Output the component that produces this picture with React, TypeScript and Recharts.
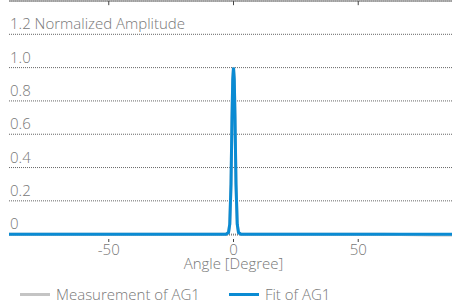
import { CartesianGrid, Legend, Line, LineChart, ReferenceLine, XAxis, YAxis } from 'recharts'

const angles = [-90, -80, -60, -40, -20, -10, -5, -3, -2, -1.5, -1, -0.6, -0.3, 0, 0.3, 0.6, 1, 1.5, 2, 3, 5, 10, 20, 40, 60, 80, 90]
const measurement = [0, 0, 0, 0, 0, 0, 0, 0, 0.01, 0.06, 0.3, 0.7, 0.93, 1.0, 0.93, 0.7, 0.3, 0.06, 0.01, 0, 0, 0, 0, 0, 0, -0.005, -0.005]
const fit = [0, 0, 0, 0, 0, 0, 0, 0, 0.01, 0.06, 0.3, 0.7, 0.93, 1.0, 0.93, 0.7, 0.3, 0.06, 0.01, 0, 0, 0, 0, 0, 0, 0, 0]
const yTicks = [0, 0.2, 0.4, 0.6, 0.8, 1.0, 1.2]
const xTicks = [-50, 0, 50]
const yMax = 1.4
const seriesNames = ['Measurement of AG1', 'Fit of AG1']

const rows = angles.map((a, i) => ({ angle: a, measurement: measurement[i], fit: fit[i] }))

const FONT = '"Open Sans", sans-serif'
const TEXT = '#777'
const BLUE = '#0a8bd3'
const GREY = '#c4c4c4'
const FS = 15

const yLabel = (v: number) => (v === 1.2 ? '1.2 Normalized Amplitude' : v === 0 ? '0' : v.toFixed(1))

// top frame line sits on the plot's upper edge (y = yMax)
const topEdge = (props: any) => {
  const s = props?.yAxis?.scale
  if (typeof s === 'function') return [s(yMax)]
  return [props?.offset?.top ?? 1]
}

function YTick({ x, y, payload }: any) {
  return (
    <text x={x + 1} y={y - 5} fill={TEXT} fontSize={FS} fontWeight={300} fontFamily={FONT} textAnchor="start">
      {yLabel(payload.value)}
    </text>
  )
}

function XTick({ x, y, payload }: any) {
  return (
    <g>
      <line x1={x} x2={x} y1={y - 4} y2={y - 1} stroke="#444" />
      <text x={x} y={y + 12} fill={TEXT} fontSize={FS} fontWeight={300} fontFamily={FONT} textAnchor="middle">
        {payload.value}
      </text>
    </g>
  )
}

function LegendBox({ payload }: any) {
  const items = [...(payload ?? [])].sort((a: any, b: any) => seriesNames.indexOf(a.value) - seriesNames.indexOf(b.value))
  return (
    <div style={{ display: 'flex', gap: 29, paddingLeft: 12, fontFamily: FONT, fontWeight: 300, fontSize: FS, lineHeight: '19px', color: TEXT }}>
      {items.map((p: any) => (
        <span key={p.value} style={{ display: 'flex', alignItems: 'center', gap: 6 }}>
          <span style={{ width: 30, height: 3, background: p.color, display: 'inline-block' }} />
          {p.value}
        </span>
      ))}
    </div>
  )
}

export default function App() {
  return (
    <div style={{ position: 'absolute', left: 0, top: 0, width: 452, height: 304, overflow: 'hidden', background: '#fff' }}>
      <LineChart width={470} height={304} data={rows} margin={{ top: 1, right: 12, bottom: 0, left: 8 }}>
        <CartesianGrid vertical={false} stroke="#666" strokeDasharray="1 1" />
        <CartesianGrid vertical={false} stroke="#999" strokeWidth={1.5} horizontalCoordinatesGenerator={topEdge} />
        <XAxis
          dataKey="angle"
          type="number"
          domain={[-90, 90]}
          ticks={xTicks}
          height={50}
          axisLine={false}
          tickLine={false}
          tick={<XTick />}
          label={{ value: 'Angle [Degree]', position: 'insideBottom', offset: 16, fill: TEXT, fontSize: FS, fontWeight: 300, fontFamily: FONT }}
        />
        <YAxis domain={[0, yMax]} ticks={yTicks} width={1} axisLine={false} tickLine={false} tickSize={0} tickMargin={0} tick={<YTick />} />
        {xTicks.map((t) => (
          <ReferenceLine
            key={t}
            segment={[
              { x: t, y: yMax },
              { x: t, y: yMax - 0.025 },
            ]}
            stroke="#444"
            strokeWidth={1}
            ifOverflow="visible"
          />
        ))}
        <Legend verticalAlign="bottom" align="left" content={<LegendBox />} />
        <Line dataKey="measurement" name="Measurement of AG1" stroke={GREY} strokeWidth={3} dot={false} type="linear" isAnimationActive={false} />
        <Line dataKey="fit" name="Fit of AG1" stroke={BLUE} strokeWidth={3} dot={false} type="linear" isAnimationActive={false} />
      </LineChart>
    </div>
  )
}
